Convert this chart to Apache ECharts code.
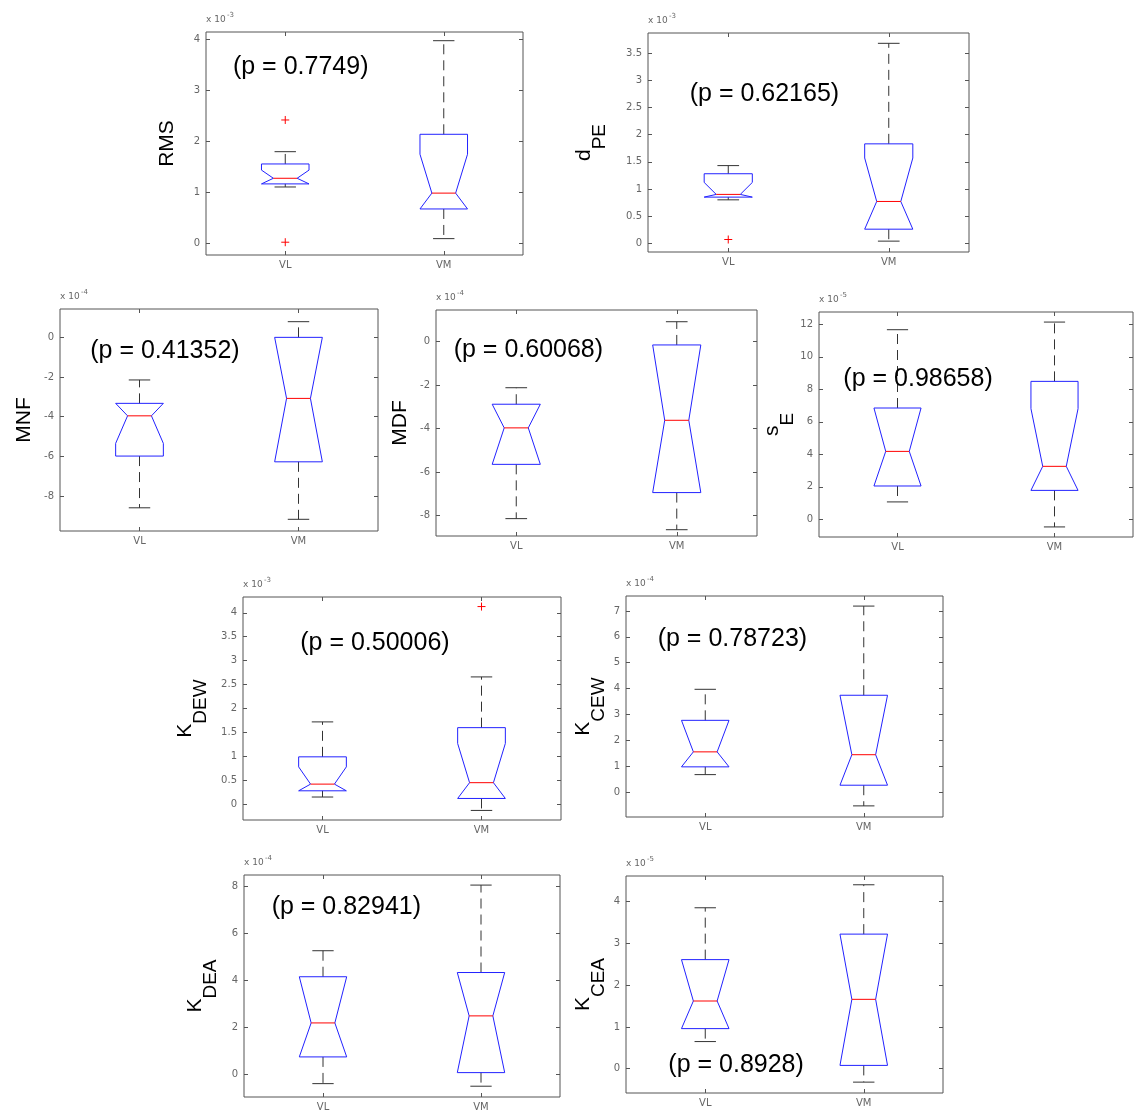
<!DOCTYPE html>
<html lang="en">
<head>
<meta charset="UTF-8">
<title>VL vs VM notched boxplots</title>
<script src="https://cdn.jsdelivr.net/npm/echarts@6.0.0/dist/echarts.min.js"></script>
<style>
  html, body { margin: 0; padding: 0; background: #fff; }
  #main { width: 1135px; height: 1117px; }
</style>
</head>
<body>
<div id="main"></div>
<script>
// groups on every x axis
const categories = ['VL', 'VM'];

// panels: RMS, dPE, MNF, MDF, sE, KDEW, KCEW, KDEA, KCEA
// each entry is [VL, VM], in units of the panel's axis exponent
const whiskerLow  = [[1.11, 0.10], [0.80, 0.04], [-8.60, -9.18], [-8.15, -8.66], [1.07, -0.47], [0.15, -0.13], [0.67, -0.54], [-0.40, -0.51], [0.65, -0.32]];
const quartile1   = [[1.17, 0.68], [0.85, 0.26], [-5.99, -6.28], [-5.65, -6.95], [2.05, 1.78], [0.28, 0.12], [0.97, 0.26], [0.74, 0.07], [0.96, 0.08]];
const medians     = [[1.28, 0.99], [0.90, 0.77], [-3.96, -3.08], [-3.97, -3.62], [4.18, 3.26], [0.42, 0.45], [1.55, 1.44], [2.19, 2.49], [1.62, 1.66]];
const quartile3   = [[1.56, 2.14], [1.28, 1.83], [-3.33, 0.00], [-2.88, -0.15], [6.85, 8.49], [0.99, 1.60], [2.77, 3.74], [4.16, 4.34], [2.61, 3.22]];
const whiskerHigh = [[1.80, 3.97], [1.43, 3.68], [-2.15, 0.79], [-2.12, 0.92], [11.67, 12.14], [1.72, 2.66], [3.97, 7.19], [5.27, 8.07], [3.85, 4.40]];
// visible notch ends (clipped to the box)
const notchLow    = [[1.17, 0.68], [0.85, 0.26], [-5.35, -6.28], [-5.65, -6.95], [2.05, 1.78], [0.28, 0.12], [0.97, 0.26], [0.74, 0.07], [0.96, 0.08]];
const notchHigh   = [[1.44, 1.75], [1.12, 1.57], [-3.33, 0.00], [-2.88, -0.15], [6.85, 6.81], [0.78, 1.27], [2.77, 3.74], [4.16, 4.34], [2.61, 3.22]];
// [panel, group, value]
const outliers = [[0, 0, 2.42], [0, 0, 0.03], [1, 0, 0.07], [5, 1, 4.13]];

const pValues = ['0.7749', '0.62165', '0.41352', '0.60068', '0.98658', '0.50006', '0.78723', '0.82941', '0.8928'];
const labelMain = ['RMS', 'd', 'MNF', 'MDF', 's', 'K', 'K', 'K', 'K'];
const labelSub = ['', 'PE', '', '', 'E', 'DEW', 'CEW', 'DEA', 'CEA'];
const exponents = ['-3', '-3', '-4', '-4', '-5', '-3', '-4', '-4', '-5'];
const yMin = [-0.22, -0.16, -9.77, -8.95, -1.09, -0.33, -0.97, -0.97, -0.58];
const yMax = [4.14, 3.87, 1.43, 1.46, 12.76, 4.33, 7.58, 8.5, 4.61];
const yTicks = [
  [0, 1, 2, 3, 4],
  [0, 0.5, 1, 1.5, 2, 2.5, 3, 3.5],
  [-8, -6, -4, -2, 0],
  [-8, -6, -4, -2, 0],
  [0, 2, 4, 6, 8, 10, 12],
  [0, 0.5, 1, 1.5, 2, 2.5, 3, 3.5, 4],
  [0, 1, 2, 3, 4, 5, 6, 7],
  [0, 2, 4, 6, 8],
  [0, 1, 2, 3, 4]
];

// where each panel sits, how far its y label is from the axis, where the p text starts (data coords)
const layout = [
  { left: 206, top: 32,  width: 317, height: 223, labelGap: 39, pAt: [0.67, 3.46] },
  { left: 648, top: 33,  width: 321, height: 219, labelGap: 48, pAt: [0.76, 2.75] },
  { left: 60,  top: 309, width: 318, height: 222, labelGap: 36, pAt: [0.69, -0.67] },
  { left: 436, top: 310, width: 321, height: 226, labelGap: 36, pAt: [0.61, -0.39] },
  { left: 819, top: 312, width: 314, height: 225, labelGap: 31, pAt: [0.655, 8.64] },
  { left: 243, top: 597, width: 318, height: 223, labelGap: 42, pAt: [0.86, 3.36] },
  { left: 626, top: 596, width: 317, height: 221, labelGap: 27, pAt: [0.70, 5.92] },
  { left: 244, top: 875, width: 316, height: 222, labelGap: 33, pAt: [0.675, 7.15] },
  { left: 626, top: 876, width: 317, height: 217, labelGap: 27, pAt: [0.767, 0.09] }
];

const frameColor = '#555';
const tickFont = { color: '#666', fontSize: 10, fontFamily: 'DejaVu Sans' };
const textFont = 'Liberation Sans, Arial, sans-serif';
const mainSize = 21, subSize = 19, subShift = 16;

const measureCtx = document.createElement('canvas').getContext('2d');
function textWidth(str, size) {
  measureCtx.font = size + 'px ' + textFont;
  return measureCtx.measureText(str).width;
}

function renderBox(params, api) {
  const x = api.value(0);
  const yOf = v => api.coord([x, v])[1];
  const cx = api.coord([x, api.value(3)])[0];
  const hw = api.size([0.15, 0])[0];
  const cap = hw * 0.45;
  const lo = yOf(api.value(1)), q1 = yOf(api.value(2)), med = yOf(api.value(3));
  const q3 = yOf(api.value(4)), hi = yOf(api.value(5));
  const nlo = yOf(api.value(6)), nhi = yOf(api.value(7));
  const L = cx - hw, R = cx + hw, Li = cx - hw / 2, Ri = cx + hw / 2;
  const dashed = { stroke: '#333', lineWidth: 1, lineDash: [10, 6] };
  const solid = { stroke: '#333', lineWidth: 1 };
  return {
    type: 'group',
    children: [
      { type: 'line', shape: { x1: cx, y1: q3, x2: cx, y2: hi }, style: dashed },
      { type: 'line', shape: { x1: cx, y1: q1, x2: cx, y2: lo }, style: dashed },
      { type: 'line', shape: { x1: cx - cap, y1: hi, x2: cx + cap, y2: hi }, style: solid },
      { type: 'line', shape: { x1: cx - cap, y1: lo, x2: cx + cap, y2: lo }, style: solid },
      {
        type: 'polygon',
        shape: { points: [[L, q1], [L, nlo], [Li, med], [L, nhi], [L, q3], [R, q3], [R, nhi], [Ri, med], [R, nlo], [R, q1]] },
        style: { fill: 'none', stroke: '#2222ff', lineWidth: 1 }
      },
      { type: 'line', shape: { x1: Li, y1: med, x2: Ri, y2: med }, style: { stroke: '#ff0000', lineWidth: 1 } }
    ]
  };
}

function renderOutlier(params, api) {
  const p = api.coord([api.value(0), api.value(1)]);
  const s = 4;
  const st = { stroke: '#ff0000', lineWidth: 1 };
  return {
    type: 'group',
    children: [
      { type: 'line', shape: { x1: p[0] - s, y1: p[1], x2: p[0] + s, y2: p[1] }, style: st },
      { type: 'line', shape: { x1: p[0], y1: p[1] - s, x2: p[0], y2: p[1] + s }, style: st }
    ]
  };
}

const grids = [], xAxes = [], yAxes = [], series = [], graphics = [];

layout.forEach((L, i) => {
  grids.push({
    left: L.left, top: L.top, width: L.width, height: L.height,
    show: true, borderColor: frameColor, borderWidth: 1, backgroundColor: 'transparent'
  });

  const tick = { inside: true, length: 4, lineStyle: { color: frameColor } };
  xAxes.push({
    gridIndex: i, type: 'value', position: 'bottom', min: 0.5, max: 2.5,
    axisLine: { show: false, onZero: false }, splitLine: { show: false },
    axisTick: Object.assign({ customValues: [1, 2] }, tick),
    axisLabel: Object.assign({ customValues: [1, 2], margin: 5, formatter: v => categories[Math.round(v) - 1] }, tickFont)
  });
  xAxes.push({
    gridIndex: i, type: 'value', position: 'top', min: 0.5, max: 2.5,
    axisLine: { show: false, onZero: false }, splitLine: { show: false },
    axisTick: Object.assign({ customValues: [1, 2] }, tick),
    axisLabel: { show: false }
  });
  yAxes.push({
    gridIndex: i, type: 'value', position: 'left', min: yMin[i], max: yMax[i],
    axisLine: { show: false, onZero: false }, splitLine: { show: false },
    axisTick: Object.assign({ customValues: yTicks[i] }, tick),
    axisLabel: Object.assign({ customValues: yTicks[i], margin: 6, formatter: v => String(v) }, tickFont)
  });
  yAxes.push({
    gridIndex: i, type: 'value', position: 'right', min: yMin[i], max: yMax[i],
    axisLine: { show: false, onZero: false }, splitLine: { show: false },
    axisTick: Object.assign({ customValues: yTicks[i] }, tick),
    axisLabel: { show: false }
  });

  const boxData = categories.map((c, g) => [
    g + 1, whiskerLow[i][g], quartile1[i][g], medians[i][g], quartile3[i][g],
    whiskerHigh[i][g], notchLow[i][g], notchHigh[i][g]
  ]);
  series.push({
    type: 'custom', xAxisIndex: 2 * i, yAxisIndex: 2 * i, clip: false,
    renderItem: renderBox, encode: { x: 0, y: [1, 2, 3, 4, 5, 6, 7] }, data: boxData
  });

  const outs = outliers.filter(o => o[0] === i).map(o => [o[1] + 1, o[2]]);
  if (outs.length) {
    series.push({
      type: 'custom', xAxisIndex: 2 * i, yAxisIndex: 2 * i, clip: false,
      renderItem: renderOutlier, encode: { x: 0, y: 1 }, data: outs
    });
  }

  series.push({
    type: 'custom', xAxisIndex: 2 * i, yAxisIndex: 2 * i, clip: false,
    encode: { x: 0, y: 1 }, data: [L.pAt],
    renderItem: (params, api) => {
      const p = api.coord([api.value(0), api.value(1)]);
      return {
        type: 'text', x: p[0], y: p[1],
        style: {
          text: '(p = ' + pValues[i] + ')', fontSize: 25, fontFamily: textFont, fill: '#000',
          align: 'left', verticalAlign: 'middle'
        }
      };
    }
  });

  // y axis title, rotated; the subscript is a second text shifted toward the axis
  const cy = L.top + L.height / 2;
  const axisX = L.left;
  if (labelSub[i]) {
    const wm = textWidth(labelMain[i], mainSize);
    const ws = textWidth(labelSub[i], subSize);
    const splitY = cy + (wm + ws) / 2 - wm;
    graphics.push({
      type: 'text', x: axisX - L.labelGap - subShift, y: splitY, rotation: Math.PI / 2,
      style: { text: labelMain[i], fontSize: mainSize, fontFamily: textFont, fill: '#000', align: 'right', verticalAlign: 'middle' }
    });
    graphics.push({
      type: 'text', x: axisX - L.labelGap, y: splitY, rotation: Math.PI / 2,
      style: { text: labelSub[i], fontSize: subSize, fontFamily: textFont, fill: '#000', align: 'left', verticalAlign: 'middle' }
    });
  } else {
    graphics.push({
      type: 'text', x: axisX - L.labelGap, y: cy, rotation: Math.PI / 2,
      style: { text: labelMain[i], fontSize: mainSize, fontFamily: textFont, fill: '#000', align: 'center', verticalAlign: 'middle' }
    });
  }

  // exponent above the axis: "x 10" plus a raised power
  const wBase = 21;
  graphics.push({
    type: 'text', x: L.left, y: L.top - 12,
    style: { text: 'x 10', fontSize: 9, fontFamily: 'DejaVu Sans', fill: '#666', align: 'left', verticalAlign: 'middle' }
  });
  graphics.push({
    type: 'text', x: L.left + wBase, y: L.top - 17,
    style: { text: exponents[i], fontSize: 7, fontFamily: 'DejaVu Sans', fill: '#666', align: 'left', verticalAlign: 'middle' }
  });
});

const myChart = echarts.init(document.getElementById('main'));
myChart.setOption({
  animation: false,
  backgroundColor: '#fff',
  grid: grids,
  xAxis: xAxes,
  yAxis: yAxes,
  series: series,
  graphic: graphics
});
</script>
</body>
</html>
